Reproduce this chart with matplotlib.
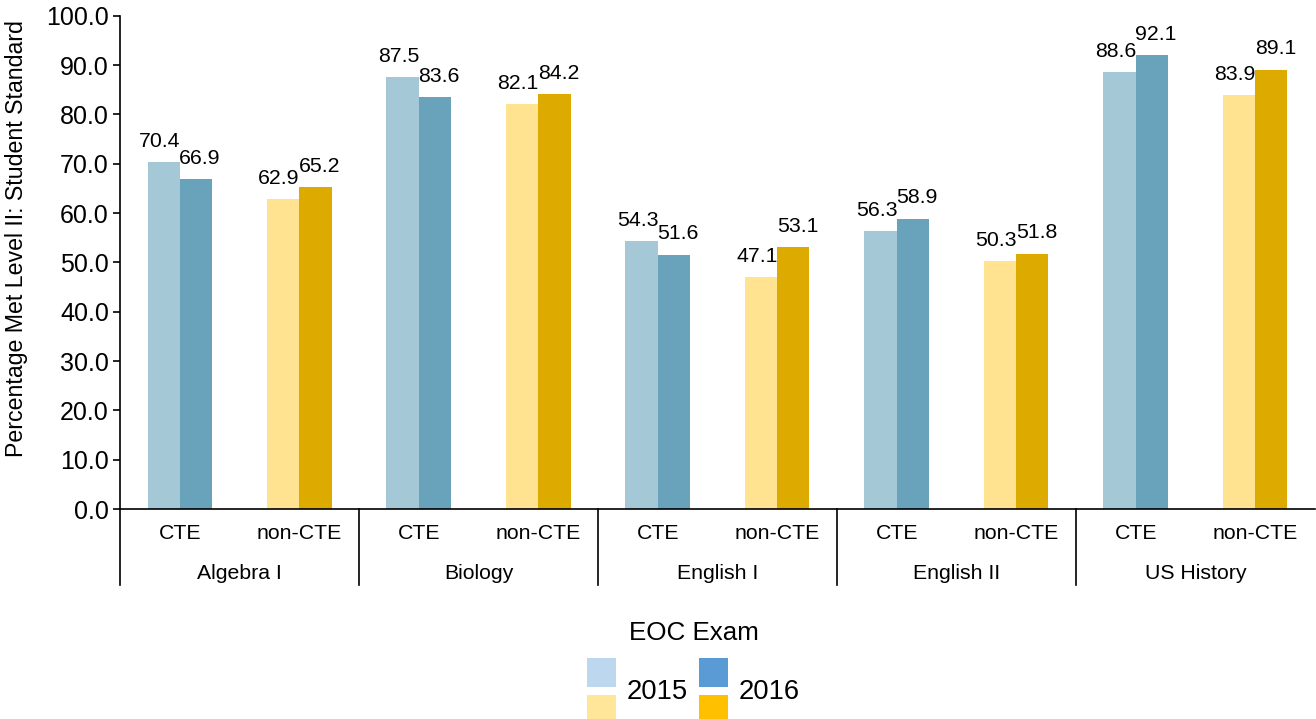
import numpy as np
import matplotlib
matplotlib.use('Agg')
import matplotlib.pyplot as plt
import matplotlib.patches as mpatches
from matplotlib.legend_handler import HandlerBase
import matplotlib.transforms as mtrans

plt.rcParams['font.family'] = ['Liberation Sans', 'DejaVu Sans']

subjects = ['Algebra I', 'Biology', 'English I', 'English II', 'US History']
groups = ['CTE', 'non-CTE']
years = ['2015', '2016']
cte_2015 = [70.4, 87.5, 54.3, 56.3, 88.6]
cte_2016 = [66.9, 83.6, 51.6, 58.9, 92.1]
non_2015 = [62.9, 82.1, 47.1, 50.3, 83.9]
non_2016 = [65.2, 84.2, 53.1, 51.8, 89.1]

BAR_COLORS = {('CTE', '2015'): '#A5C8D7', ('CTE', '2016'): '#68A3BB',
              ('non-CTE', '2015'): '#FFE390', ('non-CTE', '2016'): '#DDAA00'}
LEG_COLORS = {'2015': ('#BDD7EE', '#FFE699'), '2016': ('#5B9BD5', '#FFC000')}


class StackedHandler(HandlerBase):
    """Two squares stacked vertically (CTE colour on top, non-CTE below)."""
    def __init__(self, colors):
        super().__init__()
        self.colors = colors

    def create_artists(self, legend, orig_handle, xdescent, ydescent, width, height, fontsize, trans):
        gap = height * 0.12
        h = (height - gap) / 2
        top = mpatches.Rectangle((-xdescent, -ydescent + h + gap), width, h,
                                 facecolor=self.colors[0], edgecolor='none', transform=trans)
        bot = mpatches.Rectangle((-xdescent, -ydescent), width, h,
                                 facecolor=self.colors[1], edgecolor='none', transform=trans)
        return [top, bot]


fig = plt.figure(figsize=(13.16, 7.19), dpi=100)
ax = fig.add_axes([0.0912, 0.292, 0.908, 0.686])

w = 0.27
for s in range(len(subjects)):
    for g, (v15, v16) in enumerate([(cte_2015[s], cte_2016[s]), (non_2015[s], non_2016[s])]):
        x = 2 * s + g
        grp = groups[g]
        for off, val, yr, dx in [(-w / 2, v15, '2015', -3), (w / 2, v16, '2016', 3)]:
            ax.bar(x + off, val, width=w, color=BAR_COLORS[(grp, yr)], edgecolor='none')
            ax.annotate(f'{val:.1f}', (x + off, val), xytext=(dx, 8), textcoords='offset points',
                        ha='center', va='bottom', fontsize=15.3)

ax.set_xlim(-0.5, 9.5)
ax.set_ylim(0, 100)
ax.set_yticks(np.arange(0, 101, 10))
ax.set_yticklabels([f'{v:.1f}' for v in np.arange(0, 101, 10)], fontsize=18)
ax.tick_params(axis='y', direction='out', length=5, width=1.2, pad=3)
ax.set_xticks([])
ax.spines['top'].set_visible(False)
ax.spines['right'].set_visible(False)
ax.spines['left'].set_linewidth(1.2)
ax.spines['bottom'].set_linewidth(1.2)
ax.set_ylabel('Percentage Met Level II: Student Standard', fontsize=16.7)
ax.yaxis.set_label_coords(-0.077, 0.548)

tr = mtrans.blended_transform_factory(ax.transData, ax.transAxes)
for s in range(len(subjects)):
    for g in range(2):
        ax.text(2 * s + g, -0.05, groups[g], transform=tr, ha='center', va='center', fontsize=15.3)
    ax.text(2 * s + 0.5, -0.131, subjects[s], transform=tr, ha='center', va='center', fontsize=15.3)
    ax.plot([2 * s - 0.5, 2 * s - 0.5], [0, -0.154], transform=tr, color='black',
            lw=1.2, clip_on=False)

handles = [mpatches.Patch(label=y) for y in years]
hmap = {handles[i]: StackedHandler(LEG_COLORS[y]) for i, y in enumerate(years)}
leg = fig.legend(handles=handles, handler_map=hmap, ncol=2, loc='center',
                 bbox_to_anchor=(0.527, 0.065), frameon=False, fontsize=19.7,
                 title='EOC Exam', title_fontsize=18.7, handlelength=1.05, handleheight=3.3,
                 columnspacing=0.4, handletextpad=0.4, borderpad=0.1)

fig.savefig('out.png', dpi=100)
